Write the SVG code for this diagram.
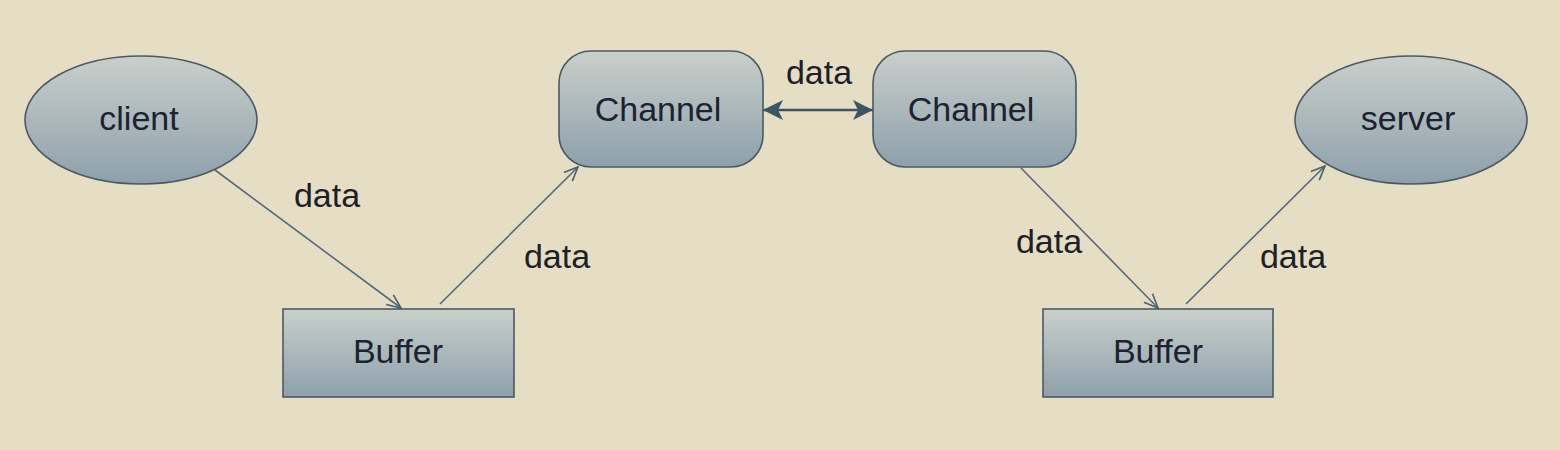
<svg xmlns="http://www.w3.org/2000/svg" width="1560" height="450" viewBox="0 0 1560 450">
  <defs>
    <linearGradient id="nodeFill" x1="0" y1="0" x2="0" y2="1">
      <stop offset="0" stop-color="#c9cfcb"/>
      <stop offset="1" stop-color="#8da0ab"/>
    </linearGradient>
    <marker id="open" viewBox="0 0 16 14" refX="15" refY="7" markerWidth="16" markerHeight="14" markerUnits="userSpaceOnUse" orient="auto">
      <path d="M1,1 L15,7 L1,13" fill="none" stroke="#4c606c" stroke-width="1.6"/>
    </marker>
    <marker id="solid" viewBox="0 0 20 22" refX="20" refY="11" markerWidth="20" markerHeight="22" markerUnits="userSpaceOnUse" orient="auto-start-reverse">
      <path d="M0,1 L20,11 L0,21 L5,11 Z" fill="#3c5566"/>
    </marker>
  </defs>
  <style>
    .node { fill: url(#nodeFill); stroke: #4a5a62; stroke-width: 1.6; }
    .label { font-family: "Liberation Sans", Arial, sans-serif; font-size: 34px; fill: #1c2230; text-anchor: middle; }
    .edge { stroke: #56697a; stroke-width: 1.6; fill: none; }
    .edge.bold { stroke: #3c5566; stroke-width: 2.6; }
    .elabel { font-family: "Liberation Sans", Arial, sans-serif; font-size: 34px; fill: #1c2028; text-anchor: middle; }
  </style>
  <rect x="0" y="0" width="1560" height="450" fill="#e6ddc5"/>

  <g id="connectors">
    <line class="edge" x1="215" y1="170" x2="401" y2="308" marker-end="url(#open)"/>
    <line class="edge" x1="440" y1="304" x2="578" y2="167" marker-end="url(#open)"/>
    <line class="edge bold" x1="763" y1="110" x2="873" y2="110" marker-start="url(#solid)" marker-end="url(#solid)"/>
    <line class="edge" x1="1021" y1="168" x2="1158" y2="308" marker-end="url(#open)"/>
    <line class="edge" x1="1186" y1="304" x2="1325" y2="166" marker-end="url(#open)"/>
    <text class="elabel" x="327" y="207">data</text>
    <text class="elabel" x="557" y="268">data</text>
    <text class="elabel" x="819" y="84">data</text>
    <text class="elabel" x="1049" y="253">data</text>
    <text class="elabel" x="1293" y="268">data</text>
  </g>

  <g id="client">
    <ellipse class="node" cx="141" cy="120" rx="116" ry="64"/>
    <text class="label" x="139" y="130">client</text>
  </g>
  <g id="buffer1">
    <rect class="node" x="283" y="309" width="231" height="88"/>
    <text class="label" x="398" y="363">Buffer</text>
  </g>
  <g id="channel1">
    <rect class="node" x="559" y="51" width="204" height="116" rx="32" ry="32"/>
    <text class="label" x="658" y="121">Channel</text>
  </g>
  <g id="channel2">
    <rect class="node" x="873" y="51" width="203" height="116" rx="32" ry="32"/>
    <text class="label" x="971" y="121">Channel</text>
  </g>
  <g id="server">
    <ellipse class="node" cx="1411" cy="120" rx="116" ry="64"/>
    <text class="label" x="1408" y="130">server</text>
  </g>
  <g id="buffer2">
    <rect class="node" x="1043" y="309" width="230" height="88"/>
    <text class="label" x="1158" y="363">Buffer</text>
  </g>
</svg>
